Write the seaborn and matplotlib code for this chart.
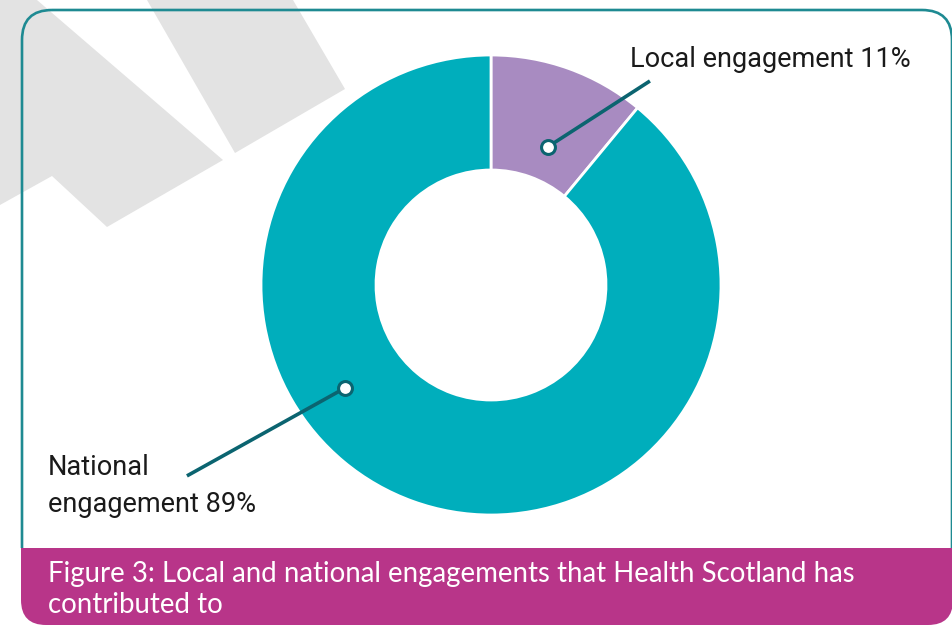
import matplotlib
matplotlib.use("Agg")
import matplotlib.pyplot as plt
from matplotlib.patches import FancyBboxPatch, Polygon, Rectangle
import numpy as np
import seaborn as sns

# ---- data -------------------------------------------------------------
label_names = ["Local engagement", "National\nengagement"]
shares = [11, 89]
caption_lines = ["Figure 3: Local and national engagements that Health Scotland has",
                 "contributed to"]

# ---- style ------------------------------------------------------------
sns.set_theme(style="white")
TEAL = "#00AEBC"
PURPLE = "#A88BC1"
MAGENTA = "#B83589"
FRAME = "#1E8A92"
LEADER = "#0B6470"
GREY = "#E3E3E3"
slice_colors = [PURPLE, TEAL]
LABEL_FONT = ["Roboto", "DejaVu Sans"]
CAPTION_FONT = ["Lato", "DejaVu Sans"]

W, H = 953, 626
fig = plt.figure(figsize=(W / 100, H / 100), dpi=100)
fig.patch.set_facecolor("white")

# background layer in pixel units
bg = fig.add_axes([0, 0, 1, 1])
bg.set_xlim(0, W)
bg.set_ylim(H, 0)
bg.axis("off")

bg.add_patch(Polygon([(0, 0), (37, 0), (223, 160), (107, 227), (52, 176), (0, 205)],
                     closed=True, facecolor=GREY, edgecolor="none", zorder=0))
bg.add_patch(Polygon([(147, 0), (235, 153), (345, 89), (293, 0)],
                     closed=True, facecolor=GREY, edgecolor="none", zorder=0))

frame = FancyBboxPatch((52, 40), 870, 560, boxstyle="round,pad=30",
                       facecolor="none", edgecolor=FRAME, linewidth=1.9, zorder=1)
bg.add_patch(frame)
frame.set_clip_path(Rectangle((0, 0), W, 548, transform=bg.transData))

band = FancyBboxPatch((46, 505), 882, 95, boxstyle="round,pad=25",
                      facecolor=MAGENTA, edgecolor="none", zorder=2)
bg.add_patch(band)
band.set_clip_path(Rectangle((0, 548), W, 100, transform=bg.transData))

for i, line in enumerate(caption_lines):
    bg.text(48, 582 + 31 * i, line, color="white", fontsize=19.9,
            family=CAPTION_FONT, ha="left", va="baseline", zorder=3)

# ---- donut ------------------------------------------------------------
cx, cy, R = 491, 285, 230
ax = fig.add_axes([(cx - R) / W, (H - cy - R) / H, 2 * R / W, 2 * R / H])
ax.pie(shares, colors=slice_colors, startangle=90, counterclock=False,
       radius=1.0, wedgeprops=dict(width=0.5, edgecolor="white", linewidth=2))
ax.set_xlim(-1, 1)
ax.set_ylim(-1, 1)
ax.set_aspect("equal")
ax.axis("off")

# leader lines: (marker angle deg, marker radius) -> end point, in donut units
anchors = [((67.6, 0.65), (0.691, 0.887)),
           ((215.2, 0.777), (-1.322, -0.830))]
for (ang, r), (ex, ey) in anchors:
    mx, my = r * np.cos(np.radians(ang)), r * np.sin(np.radians(ang))
    ax.plot([mx, ex], [my, ey], color=LEADER, linewidth=2.6, clip_on=False,
            solid_capstyle="butt", zorder=5)
    ax.plot([mx], [my], marker="o", markersize=10, markerfacecolor="white",
            markeredgecolor=LEADER, markeredgewidth=2.2, clip_on=False, zorder=6)

# slice labels
label_pos = [(630, 67), (48, 475)]
for name, v, (lx, ly) in zip(label_names, shares, label_pos):
    lines = f"{name} {v}%".split("\n")
    for j, line in enumerate(lines):
        bg.text(lx, ly + 37 * j, line, color="#1a1a1a", fontsize=19.5,
                family=LABEL_FONT, ha="left", va="baseline", zorder=3)

fig.savefig("out.png", dpi=100, facecolor="white")
